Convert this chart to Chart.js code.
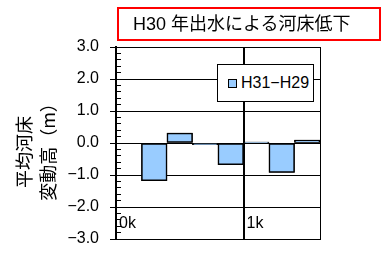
<!DOCTYPE html>
<html>
<head>
<meta charset="utf-8">
<script src="https://cdn.jsdelivr.net/npm/chart.js@4"></script>
<style>
  body { margin: 0; background: #fff; }
  #wrap { position: relative; width: 385px; height: 253px; font-family: "Liberation Sans", "Noto Sans CJK JP", sans-serif; }
  #chart { display: block; }
  #title {
    position: absolute; left: 117px; top: 7px; width: 246px; height: 30px;
    border: 2px solid #ff0000; font-size: 18px; line-height: 30px;
    padding-left: 14px; white-space: nowrap;
  }
  #legend {
    position: absolute; left: 217px; top: 64px; width: 95px; height: 36px;
    border: 1.5px solid #000; background: #fff; font-size: 16px; line-height: 36px;
  }
  #legend .box {
    display: inline-block; width: 7px; height: 7px; border: 1px solid #000;
    margin-left: 10px; margin-right: 4px; vertical-align: 0px;
  }
</style>
</head>
<body>
<div id="wrap">
  <canvas id="chart" width="385" height="253"></canvas>
  <div id="title">H30 年出水による河床低下</div>
  <div id="legend"></div>
</div>
<script>
// section midpoints (km) and mean bed change (m)
const distanceKm = [0.1, 0.3, 0.5, 0.7, 0.9, 1.1, 1.3, 1.5];
const bedChange = [null, -1.18, 0.31, -0.05, -0.68, 0.03, -0.92, 0.09];
const seriesName = 'H31−H29';
const xTickValues = [0, 1, 1.6];
const xTickLabels = ['0k', '1k', ''];
const yTicks = [-3, -2, -1, 0, 1, 2, 3];

const fillColor = '#99ccff';

document.getElementById('legend').innerHTML =
  '<span class="box" style="background:' + fillColor + '"></span>' + seriesName;

// black grid at the axis ticks; bars are painted again on top of it
const plotGrid = {
  id: 'plotGrid',
  afterDatasetsDraw(chart) {
    const { ctx, chartArea: a, scales: { x, y } } = chart;
    ctx.save();
    ctx.setLineDash([]);
    ctx.lineDashOffset = 0;
    ctx.globalAlpha = 1;
    ctx.globalCompositeOperation = 'source-over';
    ctx.strokeStyle = '#000';
    ctx.lineWidth = 1;
    yTicks.forEach(v => {
      const py = Math.round(y.getPixelForValue(v)) + 0.5;
      ctx.beginPath();
      ctx.moveTo(a.left, py);
      ctx.lineTo(a.right, py);
      ctx.stroke();
    });
    xTickValues.forEach(v => {
      const px = Math.round(x.getPixelForValue(v)) + 0.5;
      ctx.beginPath();
      ctx.moveTo(px, a.top);
      ctx.lineTo(px, a.bottom);
      ctx.stroke();
    });
    ctx.restore();
    chart.getDatasetMeta(0).data.forEach((bar, i) => {
      if (bedChange[i] !== null) bar.draw(ctx);
    });
  }
};

const ctx = document.getElementById('chart').getContext('2d');

new Chart(ctx, {
  type: 'bar',
  data: {
    datasets: [{
      label: seriesName,
      data: distanceKm.map((x, i) => ({ x: x, y: bedChange[i] })),
      backgroundColor: fillColor,
      borderColor: '#000',
      borderWidth: 1.5,
      borderSkipped: false,
      barPercentage: 1,
      categoryPercentage: 1
    }]
  },
  options: {
    responsive: false,
    animation: false,
    layout: { padding: { top: 47, right: 65, bottom: 0, left: 0 } },
    plugins: { legend: { display: false }, title: { display: false }, tooltip: { enabled: false } },
    scales: {
      x: {
        type: 'linear',
        min: 0,
        max: 1.6,
        offset: false,
        afterBuildTicks: s => { s.ticks = xTickValues.map(v => ({ value: v })); },
        afterFit: s => { s.height = 14; s.paddingLeft = 0; s.paddingRight = 0; },
        grid: { color: '#000', lineWidth: 1, drawTicks: false, offset: false },
        border: { display: true, color: '#000', width: 1, dash: [] },
        ticks: {
          mirror: true,
          align: 'start',
          labelOffset: 3,
          padding: 6,
          maxRotation: 0,
          autoSkip: false,
          color: '#000',
          font: { family: 'Liberation Sans', size: 16 },
          callback: v => xTickLabels[xTickValues.indexOf(v)]
        }
      },
      y: {
        position: 'left',
        weight: 1,
        min: -3,
        max: 3,
        afterBuildTicks: s => { s.ticks = yTicks.map(v => ({ value: v })); },
        afterFit: s => { s.width = 116; s.paddingTop = 0; s.paddingBottom = 0; },
        grid: { color: '#000', lineWidth: 1, tickLength: 6 },
        border: { display: true, color: '#000', width: 2, dash: [] },
        ticks: {
          padding: 11,
          autoSkip: false,
          color: '#000',
          font: { family: 'Liberation Sans', size: 16 },
          callback: v => v.toFixed(1).replace('-', '−')
        },
        title: {
          display: true,
          text: ['平均河床　', '変動高（m）　'],
          color: '#000',
          font: { family: 'Noto Sans CJK JP', size: 18, lineHeight: 1.35 },
          padding: { top: 12, bottom: 0 }
        }
      },
      yMinor: {
        position: 'left',
        weight: 0,
        min: -3,
        max: 3,
        afterFit: s => { s.width = 0; },
        ticks: { display: false, stepSize: 0.2 },
        grid: { drawOnChartArea: false, tickLength: -5, tickColor: '#000', tickWidth: 1 },
        border: { display: false }
      }
    }
  },
  plugins: [plotGrid]
});
</script>
</body>
</html>
